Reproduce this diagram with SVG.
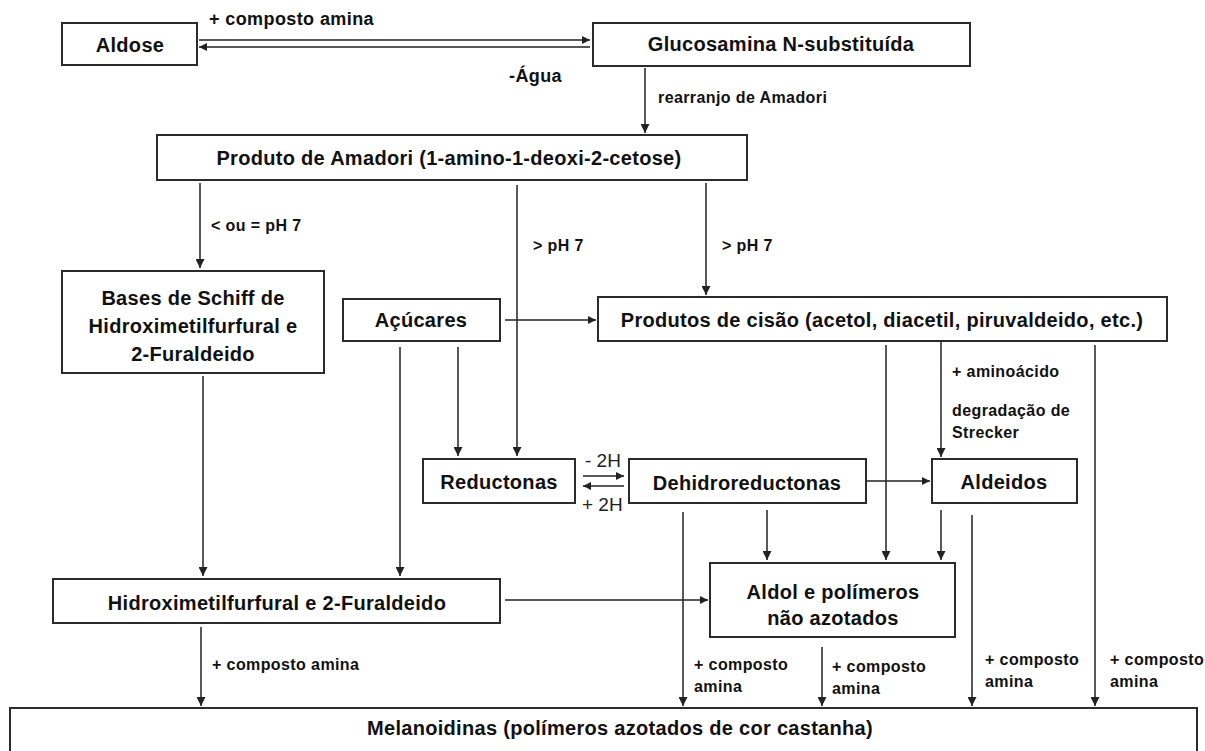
<svg xmlns="http://www.w3.org/2000/svg" width="1205" height="751" viewBox="0 0 1205 751">
<style>
.box{fill:#fff;stroke:#2b2b2b;stroke-width:2}
.t{font-family:"Liberation Sans",Arial,sans-serif;font-weight:bold;font-size:20px;letter-spacing:0.3px;fill:#111;text-anchor:middle}
.l{font-family:"Liberation Sans",Arial,sans-serif;font-weight:bold;font-size:16px;letter-spacing:0.4px;fill:#111}
.lg{font-size:18px}
.h{font-family:"Liberation Sans",Arial,sans-serif;font-size:19px;fill:#222}
.c{stroke:#222;stroke-width:1.5;fill:none}
</style>
<defs>
<marker id="ah" viewBox="0 0 10 10" refX="10" refY="5" markerWidth="8" markerHeight="8" markerUnits="userSpaceOnUse" orient="auto">
<path d="M0,0 L10,5 L0,10 z" fill="#222"/>
</marker>
<marker id="ah2" viewBox="0 0 10 10" refX="10" refY="5" markerWidth="9" markerHeight="9" markerUnits="userSpaceOnUse" orient="auto">
<path d="M0,0 L10,5 L0,10 z" fill="#222"/>
</marker>
</defs>
<rect width="1205" height="751" fill="#fff"/>

<g id="connectors">
<path class="c" d="M199,40 H590" marker-end="url(#ah)"/>
<path class="c" d="M590,47 H199" marker-end="url(#ah)"/>
<path class="c" d="M645,68 V133" marker-end="url(#ah2)"/>
<path class="c" d="M200,183 V268" marker-end="url(#ah2)"/>
<path class="c" d="M517,185 V456" marker-end="url(#ah2)"/>
<path class="c" d="M706,183 V295" marker-end="url(#ah2)"/>
<path class="c" d="M505,320 H596" marker-end="url(#ah)"/>
<path class="c" d="M203,376 V576" marker-end="url(#ah2)"/>
<path class="c" d="M400,347 V576" marker-end="url(#ah2)"/>
<path class="c" d="M458,347 V456" marker-end="url(#ah2)"/>
<path class="c" d="M583,476 H624" marker-end="url(#ah)"/>
<path class="c" d="M624,486 H583" marker-end="url(#ah)"/>
<path class="c" d="M866,481 H930" marker-end="url(#ah)"/>
<path class="c" d="M886,345 V560" marker-end="url(#ah2)"/>
<path class="c" d="M941,342 V457" marker-end="url(#ah2)"/>
<path class="c" d="M1095,345 V706" marker-end="url(#ah2)"/>
<path class="c" d="M767,510 V560" marker-end="url(#ah2)"/>
<path class="c" d="M683,512 V706" marker-end="url(#ah2)"/>
<path class="c" d="M941,510 V560" marker-end="url(#ah2)"/>
<path class="c" d="M972,515 V706" marker-end="url(#ah2)"/>
<path class="c" d="M505,600 H708" marker-end="url(#ah)"/>
<path class="c" d="M201,627 V706" marker-end="url(#ah2)"/>
<path class="c" d="M822,647 V706" marker-end="url(#ah2)"/>

<text class="l lg" x="209" y="25">+ composto amina</text>
<text class="l lg" x="509" y="82">-Água</text>
<text class="l" x="658" y="103">rearranjo de Amadori</text>
<text class="l" x="211" y="231">&lt; ou = pH 7</text>
<text class="l" x="533" y="251">&gt; pH 7</text>
<text class="l" x="722" y="251">&gt; pH 7</text>
<text class="l" x="952" y="377">+ aminoácido</text>
<text class="l" x="952" y="416">degradação de</text>
<text class="l" x="952" y="438">Strecker</text>
<text class="h" x="585" y="467">- 2H</text>
<text class="h" x="582" y="511">+ 2H</text>
<text class="l" x="212" y="670">+ composto amina</text>
<text class="l" x="694" y="670">+ composto</text>
<text class="l" x="694" y="692">amina</text>
<text class="l" x="832" y="672">+ composto</text>
<text class="l" x="832" y="694">amina</text>
<text class="l" x="985" y="665">+ composto</text>
<text class="l" x="985" y="687">amina</text>
<text class="l" x="1110" y="665">+ composto</text>
<text class="l" x="1110" y="687">amina</text>
</g>

<g id="aldose"><rect class="box" x="62" y="23" width="135" height="42"/><text class="t" x="130" y="52">Aldose</text></g>
<g id="glucosamina"><rect class="box" x="593" y="23" width="377" height="43"/><text class="t" x="781" y="51">Glucosamina N-substituída</text></g>
<g id="amadori"><rect class="box" x="157" y="135" width="590" height="45"/><text class="t" x="449" y="165">Produto de Amadori (1-amino-1-deoxi-2-cetose)</text></g>
<g id="schiff"><rect class="box" x="62" y="271" width="262" height="102"/>
<text class="t" x="193" y="305">Bases de Schiff de</text>
<text class="t" x="193" y="333">Hidroximetilfurfural e</text>
<text class="t" x="193" y="361">2-Furaldeido</text></g>
<g id="acucares"><rect class="box" x="343" y="299" width="157" height="42"/><text class="t" x="421" y="327">Açúcares</text></g>
<g id="cisao"><rect class="box" x="598" y="297" width="569" height="44"/><text class="t" x="882" y="327">Produtos de cisão (acetol, diacetil, piruvaldeido, etc.)</text></g>
<g id="reductonas"><rect class="box" x="423" y="459" width="152" height="44"/><text class="t" x="499" y="489">Reductonas</text></g>
<g id="dehidro"><rect class="box" x="629" y="459" width="237" height="44"/><text class="t" x="747" y="490">Dehidroreductonas</text></g>
<g id="aldeidos"><rect class="box" x="932" y="459" width="145" height="44"/><text class="t" x="1004" y="489">Aldeidos</text></g>
<g id="aldol"><rect class="box" x="710" y="563" width="245" height="74"/>
<text class="t" x="833" y="599">Aldol e polímeros</text>
<text class="t" x="833" y="625">não azotados</text></g>
<g id="hmf"><rect class="box" x="53" y="579" width="447" height="44"/><text class="t" x="277" y="610">Hidroximetilfurfural e 2-Furaldeido</text></g>
<g id="melanoidinas"><rect class="box" x="10" y="708" width="1187" height="60"/><text class="t" x="620" y="735">Melanoidinas (polímeros azotados de cor castanha)</text></g>
</svg>
